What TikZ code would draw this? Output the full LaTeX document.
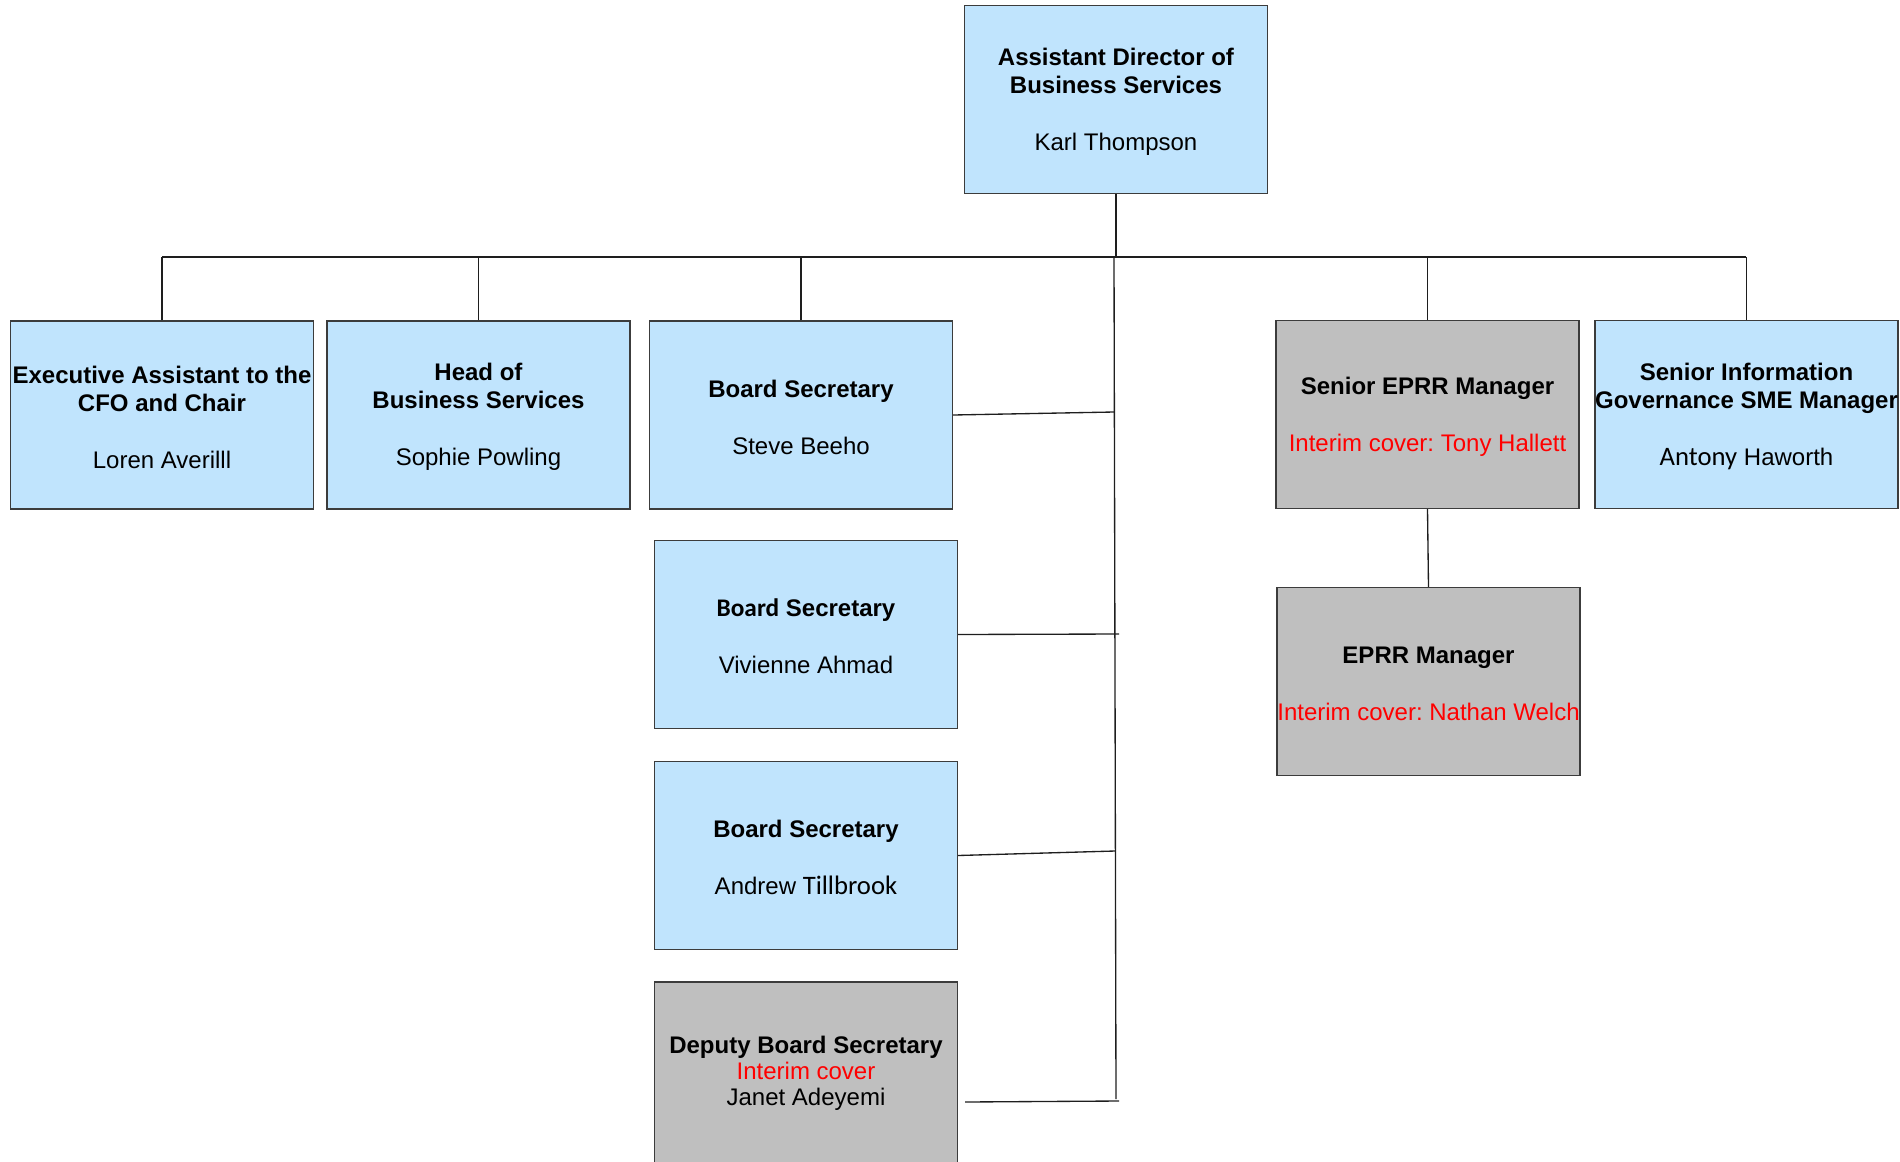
\documentclass[tikz,border=0pt]{standalone}
\usepackage{fontspec}
\setmainfont{Liberation Sans}
\newfontfamily\calib{Carlito}
\frenchspacing
\definecolor{boxblue}{RGB}{192,228,253}
\definecolor{boxgrey}{RGB}{191,191,191}
\definecolor{edgec}{RGB}{60,60,60}
\definecolor{linec}{RGB}{30,30,30}
\definecolor{coverred}{RGB}{255,0,0}
\newcommand{\tstrut}{\rule{0pt}{16.2pt}}
\begin{document}
\frenchspacing
\begin{tikzpicture}[x=0.75pt,y=-0.75pt,
  orgbox/.style={draw=edgec, line width=0.9pt, minimum width=227.25pt, minimum height=141pt,
    inner sep=0pt, align=center, font=\fontsize{18}{21.2}\selectfont\frenchspacing},
  bluebox/.style={orgbox, fill=boxblue},
  greybox/.style={orgbox, fill=boxgrey},
  conn/.style={draw=linec, line width=1pt}]
\useasboundingbox (0,0) rectangle (1900,1161);
\clip (0,0) rectangle (1900,1161);

% boxes
\node[bluebox] (top) at (1116,99.5) {\tstrut\textbf{Assistant Director of}\\\textbf{Business Services}\\[21.5pt]Karl Thompson};
\node[bluebox] (exa) at (162,415) {\tstrut\textbf{Executive Assistant to the}\\\textbf{CFO and Chair}\\[21.5pt]Loren Averilll};
\node[bluebox] (hbs) at (478.5,415) {\tstrut\textbf{Head of}\\\textbf{Business Services}\\[21.5pt]Sophie Powling};
\node[bluebox] (bs1) at (801,415) {\tstrut\textbf{Board Secretary}\\[21.5pt]Steve Beeho};
\node[bluebox] (bs2) at (806,634.5) {\tstrut\textbf{{\calib\fontsize{19}{21.2}\selectfont Board} Secretary}\\[21.5pt]Vivienne Ahmad};
\node[bluebox] (bs3) at (806,855.5) {\tstrut\textbf{Board Secretary}\\[21.5pt]Andrew {\calib\fontsize{20}{21.2}\selectfont Tillbrook}};
\node[greybox, minimum height=136.5pt, font=\fontsize{18}{19.5}\selectfont\frenchspacing] (dbs) at (806,1073)
  {\textbf{Deputy Board Secretary}\\\textcolor{coverred}{Interim cover}\\Janet Adeyemi};
\node[greybox] (seprr) at (1427.5,414.5) {\tstrut\textbf{Senior EPRR Manager}\\[21.5pt]\textcolor{coverred}{Interim cover: Tony Hallett}};
\node[greybox] (eprr) at (1428.5,681.5) {\tstrut\textbf{EPRR Manager}\\[21.5pt]\textcolor{coverred}{Interim cover: Nathan Welch}};
\node[bluebox] (sig) at (1746.5,414.5) {\tstrut\textbf{Senior Information}\\\textbf{Governance SME Manager}\\[21.5pt]{\calib\fontsize{20}{21.2}\selectfont Antony} Haworth};

% connector skeleton
\coordinate (barL) at (162,257);
\coordinate (barR) at (1746,257);
\coordinate (trunkTop) at (1114,257);
\coordinate (trunkBot) at (1116,1099);
\coordinate (j1) at (1114,412);
\coordinate (j2) at (1119,634);
\coordinate (j3) at (1115,851);
\coordinate (j4) at (1119,1101);
\coordinate (d4) at (965,1102);

\draw[conn] (top.south) -- (top.south |- barL);
\draw[conn] (barL) -- (barR);
\draw[conn] (trunkTop) -- (trunkBot);
\foreach \n in {exa,hbs,bs1,seprr,sig}{
  \draw[conn] (\n.north) -- (\n.north |- barL);
}
\draw[conn] (bs1.east) -- (j1);
\draw[conn] (bs2.east) -- (j2);
\draw[conn] (bs3.east) -- (j3);
\draw[conn] (d4) -- (j4);
\draw[conn] (seprr.south) -- (eprr.north);
\end{tikzpicture}
\end{document}
